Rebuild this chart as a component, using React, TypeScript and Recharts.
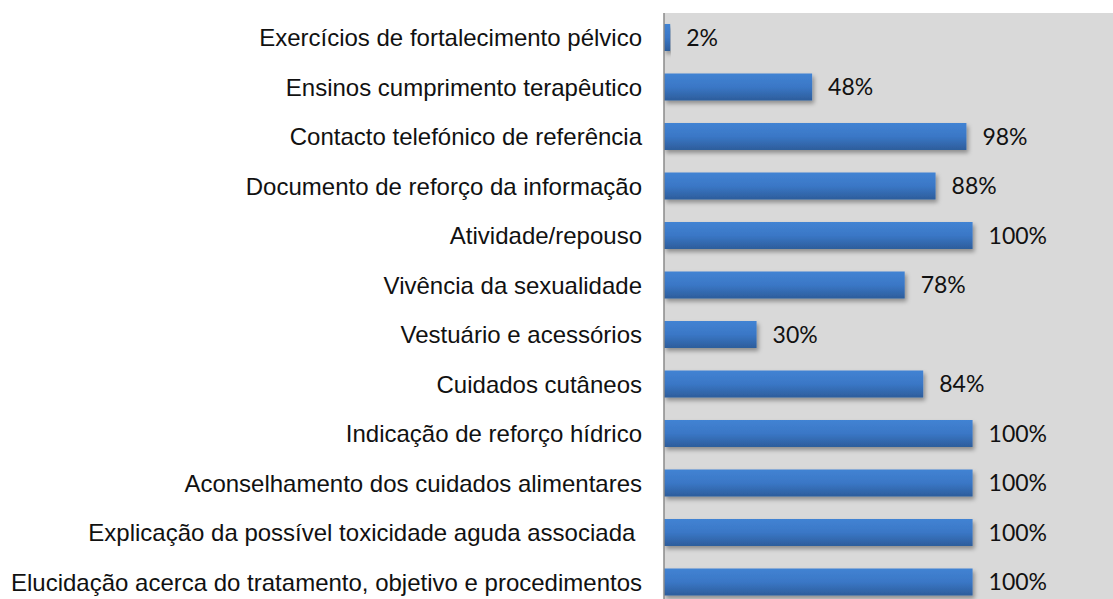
import React from 'react';
import { BarChart, Bar, XAxis, YAxis, CartesianGrid, LabelList } from 'recharts';

const categories = [
  'Exercícios de fortalecimento pélvico',
  'Ensinos cumprimento terapêutico',
  'Contacto telefónico de referência',
  'Documento de reforço da informação',
  'Atividade/repouso',
  'Vivência da sexualidade',
  'Vestuário e acessórios',
  'Cuidados cutâneos',
  'Indicação de reforço hídrico',
  'Aconselhamento dos cuidados alimentares',
  'Explicação da possível toxicidade aguda associada\u00a0',
  'Elucidação acerca do tratamento, objetivo e procedimentos',
];

const values = [2, 48, 98, 88, 100, 78, 30, 84, 100, 100, 100, 100];

const data = categories.map((name, i) => ({ name, value: values[i] }));

export default function App() {
  return (
    <div style={{ position: 'absolute', left: 0, top: 0, width: 1113, height: 599, overflow: 'hidden', background: '#fff' }}>
      <BarChart
        width={1113}
        height={607}
        data={data}
        layout="vertical"
        margin={{ top: 13, right: 0, bottom: 0, left: 0 }}
        barCategoryGap={22}
      >
        <defs>
          <linearGradient id="barGrad" x1="0" y1="0" x2="0" y2="1">
            <stop offset="0%" stopColor="#4283d3" />
            <stop offset="50%" stopColor="#3a77c6" />
            <stop offset="100%" stopColor="#2d5d9b" />
          </linearGradient>
          <filter id="barShadow" x="-5%" y="-30%" width="115%" height="180%">
            <feDropShadow dx="2" dy="3" stdDeviation="2" floodColor="#000" floodOpacity="0.35" />
          </filter>
        </defs>
        <CartesianGrid fill="#d9d9d9" horizontal={false} vertical={false} stroke="none" />
        <XAxis type="number" domain={[0, 145.5]} hide />
        <YAxis
          type="category"
          dataKey="name"
          width={664}
          tickLine={false}
          tickSize={0}
          tickMargin={22}
          axisLine={{ stroke: '#8a8a8a', strokeWidth: 1.5 }}
          interval={0}
          tick={{ fill: '#111', fontSize: 24, fontFamily: '"Liberation Sans", Arial, sans-serif' }}
        />
        <Bar
          dataKey="value"
          fill="url(#barGrad)"
          barSize={27}
          isAnimationActive={false}
          style={{ filter: 'url(#barShadow)' }}
        >
          <LabelList
            dataKey="value"
            position="right"
            offset={16}
            formatter={(v: number) => `${v}%`}
            style={{ fill: '#111', fontSize: 23, fontFamily: 'Lato, "Open Sans", sans-serif' }}
          />
        </Bar>
      </BarChart>
    </div>
  );
}
